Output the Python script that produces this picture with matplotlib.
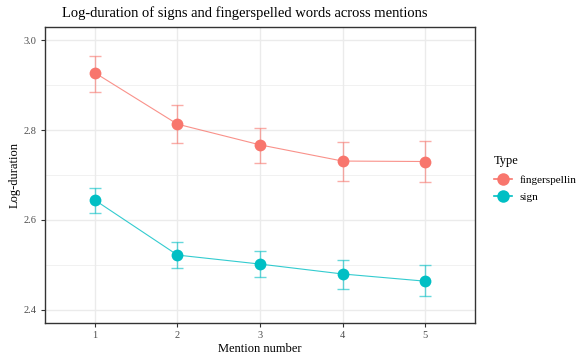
import matplotlib
matplotlib.use("Agg")
import matplotlib.pyplot as plt
from matplotlib.lines import Line2D

mention = [1, 2, 3, 4, 5]
fs_mean = [2.927, 2.813, 2.767, 2.731, 2.730]
fs_lo = [2.884, 2.771, 2.727, 2.687, 2.684]
fs_hi = [2.964, 2.856, 2.804, 2.774, 2.775]
sg_mean = [2.644, 2.522, 2.502, 2.480, 2.464]
sg_lo = [2.616, 2.494, 2.473, 2.447, 2.430]
sg_hi = [2.672, 2.551, 2.532, 2.512, 2.500]
series_names = ["fingerspelling", "sign"]
colors = ["#F8766D", "#00BFC4"]
yticks = [2.4, 2.6, 2.8, 3.0]

plt.rcParams['font.family'] = ['Liberation Serif', 'DejaVu Serif']

fig = plt.figure(figsize=(5.76, 3.56), dpi=100)
ax = fig.add_axes([45/576, 1-323/356, 430/576, 296/356])

for mean, lo, hi, c in [(fs_mean, fs_lo, fs_hi, colors[0]), (sg_mean, sg_lo, sg_hi, colors[1])]:
    ax.plot(mention, mean, color=c, lw=0.8, alpha=0.8, zorder=3)
    yerr = [[m - l for m, l in zip(mean, lo)], [h - m for m, h in zip(mean, hi)]]
    ax.errorbar(mention, mean, yerr=yerr, fmt='none', ecolor=c, alpha=0.6,
                elinewidth=1.0, capsize=4, capthick=1.0, zorder=3)
    ax.plot(mention, mean, 'o', color=c, ms=8.5, mec='none', zorder=4)

ax.set_xlim(0.394, 5.606)
ax.set_ylim(2.371, 3.029)
ax.set_xticks(mention)
ax.set_xticklabels([str(m) for m in mention])
ax.set_yticks(yticks)
ax.set_yticklabels([f"{t:.1f}" for t in yticks])
for y in [2.5, 2.7, 2.9]:
    ax.axhline(y, color='#EBEBEB', lw=0.5, zorder=0)
ax.grid(True, which='major', color='#EBEBEB', lw=1.0, zorder=0)
ax.set_axisbelow(True)
for s in ax.spines.values():
    s.set_color('#333333')
    s.set_linewidth(1.0)
ax.tick_params(axis='both', colors='#333333', length=3, width=0.8, labelsize=7.5, labelcolor='#4D4D4D', pad=3)

ax.set_xlabel("Mention number", fontsize=9, labelpad=2)
ax.set_ylabel("Log-duration", fontsize=9, labelpad=2)
fig.text(245/576, 1-13/356, "Log-duration of signs and fingerspelled words across mentions",
         ha='center', va='center', fontsize=10.5)

handles = [Line2D([0], [0], color=c, marker='o', ms=9, lw=1.2, mec='none') for c in colors]
leg = fig.legend(handles, series_names, title="Type", loc='upper left',
                 bbox_to_anchor=(484/576, 1-145/356), frameon=False, fontsize=8,
                 title_fontsize=9, handlelength=1.6, handletextpad=0.7, labelspacing=0.7)
leg._legend_box.align = "left"

fig.savefig("out.png", dpi=100)
